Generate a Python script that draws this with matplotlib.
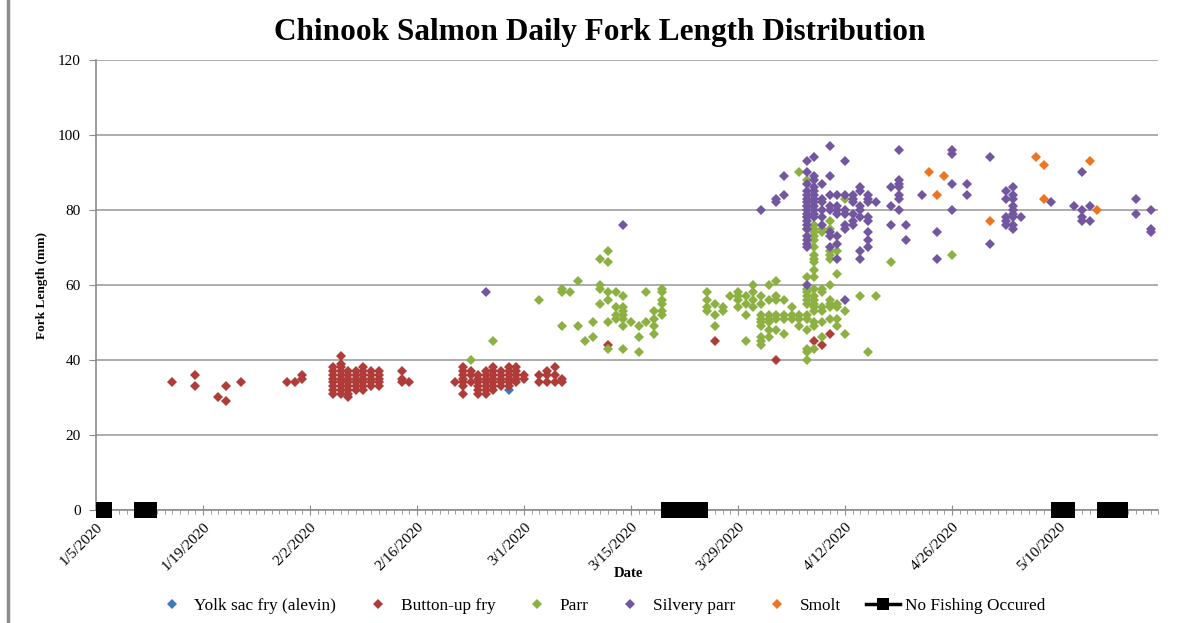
import matplotlib
matplotlib.use("Agg")
import matplotlib.pyplot as plt
import matplotlib.dates as mdates
from matplotlib.lines import Line2D
from matplotlib.ticker import FixedLocator
from matplotlib.transforms import Bbox, TransformedBbox
import datetime as dt

plt.rcParams['font.family'] = ['Liberation Serif', 'DejaVu Serif']

# ---------------- data (date -> fork lengths, mm) ----------------
yolk_sac = {"2020-02-28": [32]}

button_up = {
    "2020-01-15": [34], "2020-01-18": [36, 33], "2020-01-21": [30],
    "2020-01-22": [33, 29], "2020-01-24": [34], "2020-01-30": [34],
    "2020-01-31": [34], "2020-02-01": [36, 35],
    "2020-02-05": [38, 37, 36, 35, 34, 33, 32, 31],
    "2020-02-06": [41, 39, 38, 37, 36, 35, 34, 33, 32, 31],
    "2020-02-07": [37, 36, 35, 34, 33, 32, 31, 30],
    "2020-02-08": [37, 36, 35, 34, 33, 32],
    "2020-02-09": [38, 37, 36, 35, 34, 33, 32],
    "2020-02-10": [37, 36, 35, 34, 33],
    "2020-02-11": [37, 36, 35, 34, 33],
    "2020-02-14": [37, 35, 34], "2020-02-15": [34],
    "2020-02-21": [34],
    "2020-02-22": [38, 37, 36, 35, 34, 33, 31],
    "2020-02-23": [37, 36, 34],
    "2020-02-24": [36, 35, 34, 33, 32, 31],
    "2020-02-25": [37, 36, 35, 34, 33, 32, 31],
    "2020-02-26": [38, 37, 36, 35, 34, 33, 32],
    "2020-02-27": [37, 36, 35, 34, 33],
    "2020-02-28": [38, 37, 36, 35, 34, 33],
    "2020-02-29": [38, 37, 36, 35, 34],
    "2020-03-01": [36, 35],
    "2020-03-03": [36, 34], "2020-03-04": [37, 36, 34],
    "2020-03-05": [38, 36, 34], "2020-03-06": [35, 34],
    "2020-03-12": [44], "2020-03-26": [45], "2020-04-03": [40],
    "2020-04-08": [45], "2020-04-09": [44], "2020-04-10": [47],
}

parr = {
    "2020-02-23": [40], "2020-02-26": [45], "2020-03-03": [56],
    "2020-03-06": [59, 58, 49], "2020-03-07": [58], "2020-03-08": [61, 49],
    "2020-03-09": [45], "2020-03-10": [50, 46], "2020-03-11": [67, 60, 59, 55],
    "2020-03-12": [69, 66, 58, 56, 50, 43], "2020-03-13": [58, 54, 52, 51],
    "2020-03-14": [57, 54, 53, 52, 51, 49, 43], "2020-03-15": [50],
    "2020-03-16": [49, 46, 42], "2020-03-17": [58, 50],
    "2020-03-18": [53, 51, 49, 47], "2020-03-19": [59, 58, 56, 55, 53, 52],
    "2020-03-25": [58, 56, 54, 53], "2020-03-26": [55, 52, 49],
    "2020-03-27": [54, 53], "2020-03-28": [57], "2020-03-29": [58, 57, 56, 54],
    "2020-03-30": [57, 55, 52, 45], "2020-03-31": [60, 58, 56, 54],
    "2020-04-01": [57, 55, 52, 51, 50, 49, 46, 45, 44],
    "2020-04-02": [60, 56, 52, 51, 50, 48, 46],
    "2020-04-03": [61, 57, 56, 52, 51, 48],
    "2020-04-04": [56, 52, 51, 47], "2020-04-05": [54, 52, 51],
    "2020-04-06": [90, 52, 51, 49],
    "2020-04-07": [88, 81, 78, 75, 62, 59, 58, 57, 56, 55, 52, 51, 48, 43, 42, 40],
    "2020-04-08": [76, 75, 74, 73, 72, 70, 68, 67, 66, 64, 62, 59, 57, 56, 55,
                   54, 53, 50, 49, 43],
    "2020-04-09": [75, 74, 59, 58, 54, 53, 50, 46],
    "2020-04-10": [77, 75, 69, 68, 67, 60, 56, 55, 54, 51],
    "2020-04-11": [69, 63, 55, 54, 51, 49],
    "2020-04-12": [83, 53, 47], "2020-04-14": [57], "2020-04-15": [42],
    "2020-04-16": [57], "2020-04-18": [66], "2020-04-26": [68],
}

silvery_parr = {
    "2020-02-25": [58], "2020-03-14": [76], "2020-04-01": [80],
    "2020-04-03": [83, 82], "2020-04-04": [89, 84],
    "2020-04-07": [93, 90, 87, 85, 84, 83, 82, 81, 80, 79, 78, 77, 76, 75,
                   73, 72, 71, 70, 60],
    "2020-04-08": [94, 89, 88, 86, 85, 84, 83, 82, 81, 80, 79, 78],
    "2020-04-09": [87, 83, 82, 80, 78, 76],
    "2020-04-10": [97, 89, 84, 81, 80, 74, 73, 70],
    "2020-04-11": [84, 81, 80, 79, 73, 71, 67],
    "2020-04-12": [93, 84, 80, 79, 76, 75, 56],
    "2020-04-13": [84, 83, 82, 79, 77, 76],
    "2020-04-14": [86, 85, 81, 80, 78, 69, 67],
    "2020-04-15": [84, 83, 82, 78, 77, 74, 72, 70],
    "2020-04-16": [82], "2020-04-18": [86, 81, 76],
    "2020-04-19": [96, 88, 87, 86, 84, 83, 80], "2020-04-20": [76, 72],
    "2020-04-22": [84], "2020-04-24": [74, 67], "2020-04-26": [96, 95, 87, 80],
    "2020-04-28": [87, 84], "2020-05-01": [94, 71],
    "2020-05-03": [85, 83, 78, 77, 76],
    "2020-05-04": [86, 84, 83, 81, 80, 79, 78, 76, 75], "2020-05-05": [78],
    "2020-05-09": [82], "2020-05-12": [81], "2020-05-13": [90, 80, 78, 77],
    "2020-05-14": [81, 77], "2020-05-20": [83, 79], "2020-05-22": [80, 75, 74],
}

smolt = {
    "2020-04-23": [90], "2020-04-24": [84], "2020-04-25": [89],
    "2020-05-01": [77], "2020-05-07": [94], "2020-05-08": [92, 83],
    "2020-05-14": [93], "2020-05-15": [80],
}

no_fishing_runs = [
    ["2020-01-05", "2020-01-06"],
    ["2020-01-11", "2020-01-12"],
    ["2020-03-20", "2020-03-21", "2020-03-22", "2020-03-23", "2020-03-24"],
    ["2020-05-10", "2020-05-11"],
    ["2020-05-16", "2020-05-17", "2020-05-18"],
]
no_fishing_value = 0

x_tick_dates = ["2020-01-05", "2020-01-19", "2020-02-02", "2020-02-16",
                "2020-03-01", "2020-03-15", "2020-03-29", "2020-04-12",
                "2020-04-26", "2020-05-10"]
y_ticks = [0, 20, 40, 60, 80, 100, 120]

series_names = ["Yolk sac fry (alevin)", "Button-up fry", "Parr",
                "Silvery parr", "Smolt"]
series_colors = ["#3F77BC", "#B03C3A", "#8DB043", "#7356A0", "#EE7420"]

# ---------------- drawing ----------------
def to_date(s):
    return dt.datetime.strptime(s, "%Y-%m-%d")

fig = plt.figure(figsize=(11.86, 6.23), dpi=100)
ax = fig.add_axes([0.0809, 0.1814, 0.8959, 0.7223])

handles = []
for data, name, col in zip([yolk_sac, button_up, parr, silvery_parr, smolt],
                           series_names, series_colors):
    xs, ys = [], []
    for d, vals in data.items():
        for v in vals:
            xs.append(to_date(d))
            ys.append(v)
    ax.plot(xs, ys, ls='none', marker='D', ms=4.8, mew=0, color=col,
            zorder=3, clip_on=False)
    handles.append(Line2D([], [], ls='none', marker='D', ms=4.8, mew=0,
                          color=col))

clip_box = TransformedBbox(Bbox([[0, -0.2], [1, 1]]), ax.transAxes)
for run in no_fishing_runs:
    xs = [to_date(d) for d in run]
    ln, = ax.plot(xs, [no_fishing_value] * len(xs), color='black', lw=2.5,
                  marker='s', ms=11, mew=0, zorder=4)
    ln.set_clip_box(clip_box)
handles.append(Line2D([], [], color='black', lw=2.5, marker='s', ms=8, mew=0))

ax.set_xlim(to_date("2020-01-05"), to_date("2020-05-23"))
ax.set_ylim(0, 120)
ax.set_yticks(y_ticks)
ax.set_yticklabels([str(v) for v in y_ticks], fontsize=11)

tick_dt = [to_date(s) for s in x_tick_dates]
ax.xaxis.set_major_locator(FixedLocator(mdates.date2num(tick_dt)))
ax.xaxis.set_minor_locator(mdates.DayLocator())
ax.set_xticklabels([f"{d.month}/{d.day}/{d.year}" for d in tick_dt],
                   rotation=45, ha='right', rotation_mode='anchor', fontsize=11)

ax.grid(axis='y', color='#A6A6A6', lw=1.3)
ax.set_axisbelow(True)
for s in ['top', 'right']:
    ax.spines[s].set_visible(False)
for s in ['left', 'bottom']:
    ax.spines[s].set_color('#8C8C8C')
    ax.spines[s].set_linewidth(1.2)
ax.tick_params(axis='y', direction='out', length=5, color='#8C8C8C', pad=6)
ax.tick_params(axis='x', which='major', direction='inout', length=7,
               color='#8C8C8C', pad=4)
ax.tick_params(axis='x', which='minor', direction='out', length=3,
               color='#8C8C8C')

fig.text(0.506, 0.9486, "Chinook Salmon Daily Fork Length Distribution",
         ha='center', va='center', fontsize=22.5, fontweight='bold')
fig.text(0.0354, 0.5425, "Fork Length (mm)", rotation=90, ha='center',
         va='center', fontsize=9.5, fontweight='bold')
fig.text(0.5295, 0.0787, "Date", ha='center', va='center', fontsize=10.5,
         fontweight='bold')

fig.legend(handles, series_names + ["No Fishing Occured"], loc='center',
           bbox_to_anchor=(0.506, 0.027), ncol=6, frameon=False, fontsize=12.4,
           handlelength=2.0, handletextpad=0.3, columnspacing=1.44)

fig.add_artist(Line2D([8 / 1186, 8 / 1186], [0, 1], color='#8C8C8C', lw=2.5))

fig.savefig("out.png", dpi=100)
